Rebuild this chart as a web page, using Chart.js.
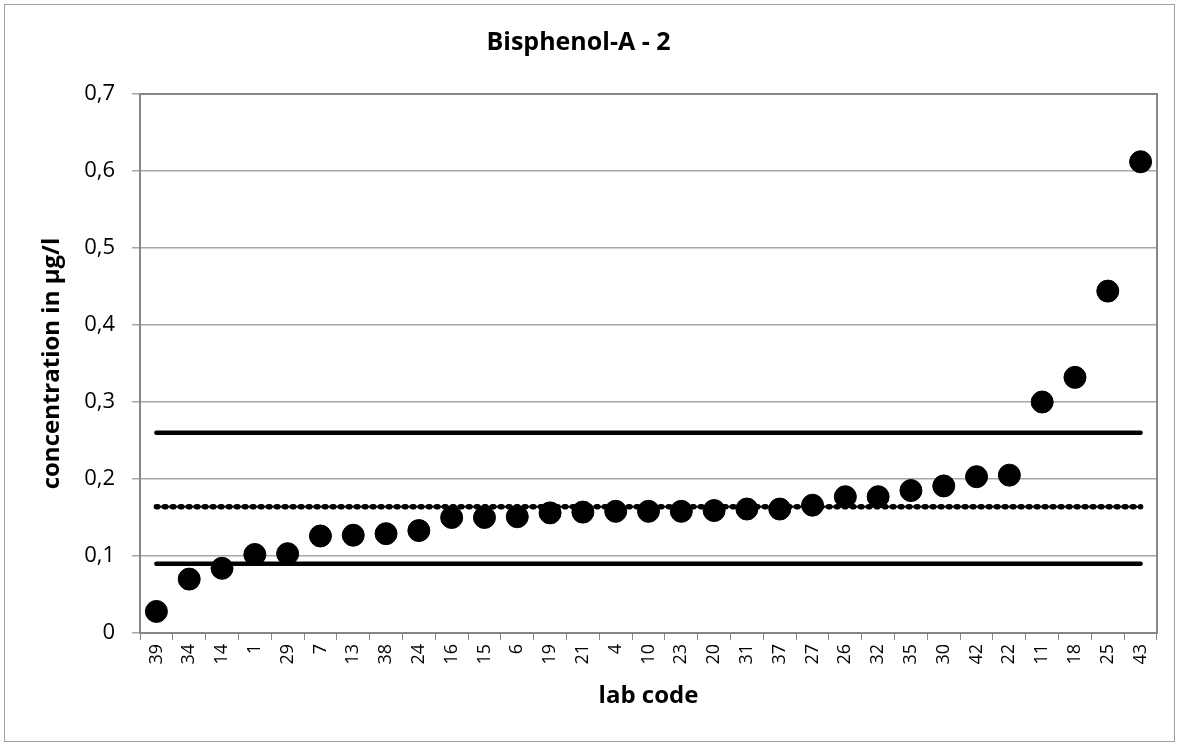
<!DOCTYPE html>
<html>
<head>
<meta charset="utf-8">
<script src="https://cdn.jsdelivr.net/npm/chart.js@4/dist/chart.umd.min.js"></script>
<style>
  body { margin: 0; background: #fff; }
</style>
</head>
<body>
<canvas id="myChart" width="1179" height="746"></canvas>
<script>
let labCodes = ["39","34","14","1","29","7","13","38","24","16","15","6","19","21","4","10",
    "23","20","31","37","27","26","32","35","30","42","22","11","18","25","43"];
let results = [0.028, 0.070, 0.084, 0.102, 0.103, 0.126, 0.127, 0.129, 0.133, 0.150, 0.150,
    0.151, 0.156, 0.157, 0.158, 0.158, 0.158, 0.159, 0.161, 0.161, 0.166, 0.177, 0.177,
    0.185, 0.191, 0.203, 0.205, 0.300, 0.332, 0.444, 0.612];
let assignedValue = 0.164;
let upperLimit = 0.26;
let lowerLimit = 0.09;
let yTicks = [0, 0.1, 0.2, 0.3, 0.4, 0.5, 0.6, 0.7];

function flat(v){
    return labCodes.map(() => v);
}

// frame round the plot area and round the whole chart
const frames = {
    id: "frames",
    afterDraw(chart){
        let ctx = chart.ctx;
        let a = chart.chartArea;
        ctx.save();
        ctx.strokeStyle = "#868686";
        ctx.lineWidth = 2;
        ctx.strokeRect(a.left, a.top, a.right - a.left, a.bottom - a.top);
        ctx.strokeStyle = "#a0a0a0";
        ctx.lineWidth = 1;
        ctx.strokeRect(4.5, 4.5, chart.width - 9, chart.height - 9);
        ctx.restore();
    }
};

new Chart("myChart", {
    type: "line",
    data: {
        labels: labCodes,
        datasets: [{
            data: results,
            showLine: false,
            pointRadius: 11,
            pointBackgroundColor: "#000",
            pointBorderColor: "#000"
        }, {
            data: flat(upperLimit),
            borderColor: "#000",
            borderWidth: 4.5,
            borderCapStyle: "round",
            pointRadius: 0
        }, {
            data: flat(assignedValue),
            borderColor: "#000",
            borderWidth: 5.5,
            borderDash: [1.5, 6.5],
            borderCapStyle: "round",
            pointRadius: 0
        }, {
            data: flat(assignedValue),
            borderColor: "#000",
            borderWidth: 2,
            pointRadius: 0
        }, {
            data: flat(lowerLimit),
            borderColor: "#000",
            borderWidth: 4.5,
            borderCapStyle: "round",
            pointRadius: 0
        }]
    },
    options: {
        responsive: false,
        animation: false,
        layout: {padding: {left: 0, right: 22, top: 0, bottom: 0}},
        plugins: {
            legend: {display: false},
            tooltip: {enabled: false},
            title: {
                display: true,
                text: "Bisphenol-A - 2",
                color: "#000",
                font: {family: "Open Sans", size: 25, weight: "bold"},
                padding: {top: 28, bottom: 36}
            }
        },
        scales: {
            x: {
                offset: true,
                afterFit(scale){ scale.height = 113; },
                grid: {offset: true, drawOnChartArea: false, color: "#868686", tickLength: 7},
                border: {color: "#868686", width: 2},
                ticks: {
                    color: "#000",
                    minRotation: 90,
                    maxRotation: 90,
                    autoSkip: false,
                    padding: 4,
                    font: {family: "Open Sans", size: 18}
                },
                title: {
                    display: true,
                    text: "lab code",
                    color: "#000",
                    font: {family: "Open Sans", size: 24, weight: "bold"},
                    padding: {top: 0, bottom: 35}
                }
            },
            y: {
                min: 0,
                max: 0.7,
                afterFit(scale){ scale.width = 140; },
                afterBuildTicks(scale){ scale.ticks = yTicks.map(v => ({value: v})); },
                grid: {color: "#a6a6a6", lineWidth: 1.5, tickLength: 8},
                border: {color: "#868686", width: 2},
                ticks: {
                    color: "#000",
                    padding: 17,
                    font: {family: "Open Sans", size: 22},
                    callback: v => v == 0 ? "0" : v.toFixed(1).replace(".", ",")
                },
                title: {
                    display: true,
                    text: "concentration in µg/l",
                    color: "#000",
                    font: {family: "Open Sans", size: 24, weight: "bold"},
                    padding: {top: 38, bottom: 0}
                }
            }
        }
    },
    plugins: [frames]
});
</script>
</body>
</html>
